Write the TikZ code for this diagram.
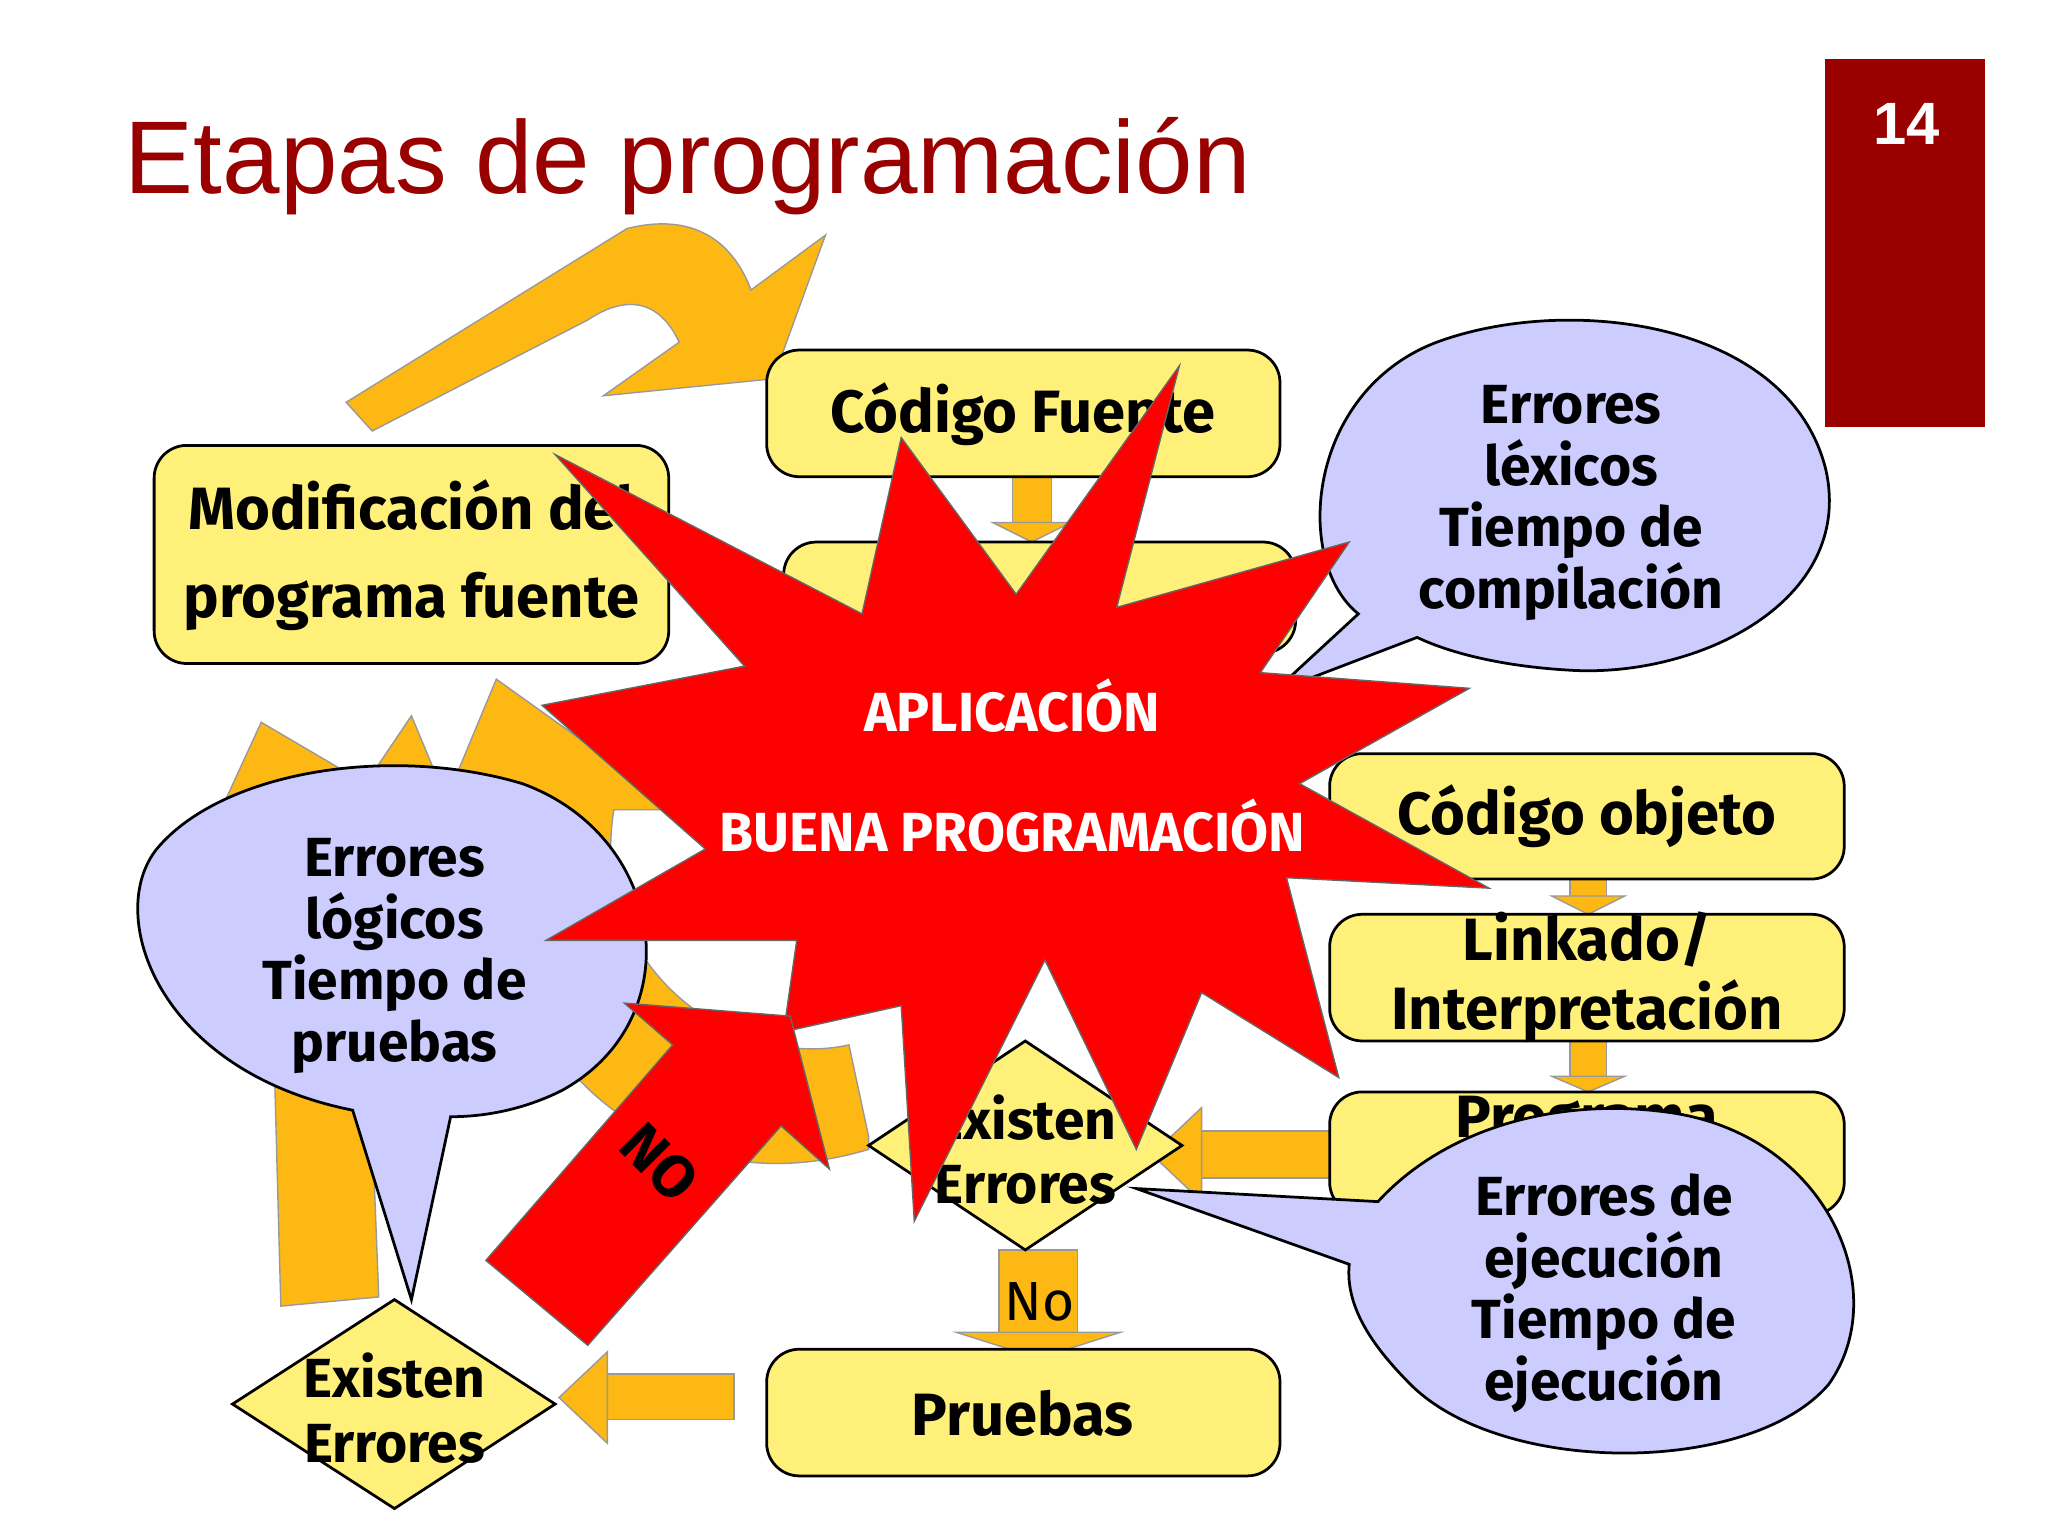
\documentclass[tikz,border=0pt]{standalone}
\usepackage{fontspec}
\setmainfont{Fira Sans}
\newfontfamily\titlefont{Liberation Sans}
\usetikzlibrary{shapes.geometric}
\definecolor{ybox}{HTML}{FFF07A}
\definecolor{orng}{HTML}{FDB813}
\definecolor{lav}{HTML}{CCCCFF}
\definecolor{dred}{HTML}{990000}
\tikzset{
 x=0.01cm,y=-0.01cm,
 ybox/.style={draw=black,fill=ybox,rounded corners=0.25cm,line width=0.6pt},
 txt/.style={font=\fontsize{13}{16}\selectfont\bfseries,align=center},
 dia/.style={draw=black,fill=ybox,line width=0.6pt},
 bub/.style={draw=black,fill=lav,line width=0.6pt},
 oarr/.style={fill=orng,draw=black!40,line width=0.3pt},
}
\begin{document}
\begin{tikzpicture}
\fill[white] (0,0) rectangle (1568,1176);
\useasboundingbox (0,0) rectangle (1568,1176);
% title
\node[anchor=base west,text=dred,font=\titlefont\fontsize{22.5}{26}\selectfont,inner sep=0] (title) at (95,148) {Etapas de programación};
\fill[dred] (1397,45) rectangle (1520,327);
\node[text=white,font=\titlefont\bfseries\fontsize{13}{15}\selectfont] (num) at (1460,95) {14};
% orange arrows
\fill[oarr] (265,308) -- (480,175) .. controls (540,160) and (565,195) .. (575,222) -- (632,180) -- (592,290) -- (462,303) -- (520,262) .. controls (505,230) and (480,225) .. (450,245) -- (285,330) -- cycle;
\fill[oarr] (215,1000) -- (290,993) -- (275,610) -- (345,620) -- (315,548) -- (280,600) -- (200,553) -- (160,640) -- (205,630) -- cycle;
\fill[oarr] (665,870) -- (650,800) .. controls (560,820) and (450,740) .. (470,620) -- (520,620) -- (380,520) -- (330,640) -- (380,620) .. controls (360,800) and (500,930) .. (665,880) -- cycle;
\fill[oarr] (775,365) rectangle (805,400); \fill[oarr] (760,400) -- (820,400) -- (790,415) -- cycle;
\fill[oarr] (1202,650) rectangle (1230,688); \fill[oarr] (1188,686) -- (1244,686) -- (1216,700) -- cycle;
\fill[oarr] (1202,797) rectangle (1230,826); \fill[oarr] (1188,824) -- (1244,824) -- (1216,836) -- cycle;
\fill[oarr] (765,957) rectangle (825,1020); \fill[oarr] (732,1020) -- (858,1020) -- (795,1040) -- cycle;
\node[font=\fontsize{12}{14}\selectfont] (no) at (796,997) {No};
\fill[oarr] (562,1052) rectangle (465,1087); \fill[oarr] (465,1035) -- (465,1105) -- (428,1070) -- cycle;
\fill[oarr] (1020,866) rectangle (920,902); \fill[oarr] (920,848) -- (920,920) -- (882,884) -- cycle;
% boxes
\draw[ybox] (587,268) rectangle (980,365);
\node[txt] (cf) at (783,317) {Código Fuente};
\draw[ybox] (600,415) rectangle (992,500);
\draw[ybox] (118,341) rectangle (512,508);
\node[txt,font=\fontsize{13}{19}\selectfont\bfseries] (mod) at (315,425) {Modificación del\\programa fuente};
\draw[ybox] (1018,577) rectangle (1412,673);
\node[txt] (co) at (1215,625) {Código objeto};
\draw[ybox] (1018,700) rectangle (1412,797);
\node[txt,font=\fontsize{13}{15}\selectfont\bfseries] (link) at (1215,748) {Linkado/\\Interpretación};
\draw[ybox] (1018,836) rectangle (1412,930);
\node[txt] (pe) at (1215,860) {Programa};
\draw[ybox] (587,1033) rectangle (980,1130);
\node[txt] (pr) at (783,1082) {Pruebas};
% diamonds
\draw[dia] (785,797) -- (905,877) -- (785,957) -- (665,877) -- cycle;
\node[txt,font=\fontsize{12}{14}\selectfont\bfseries] (d1) at (785,880) {Existen\\Errores};
\draw[dia] (302,995) -- (425,1075) -- (302,1155) -- (178,1075) -- cycle;
\node[txt,font=\fontsize{12}{14}\selectfont\bfseries] (d2) at (302,1078) {Existen\\Errores};
% bubbles
\draw[bub] (1040,470) .. controls (990,430) and (1000,300) .. (1100,262) .. controls (1200,225) and (1370,245) .. (1398,360) .. controls (1420,460) and (1300,520) .. (1200,513) .. controls (1150,510) and (1110,500) .. (1085,488) -- (975,530) -- cycle;
\node[txt,font=\fontsize{12}{13.4}\selectfont\bfseries] (bl) at (1203,385) {Errores\\léxicos\\Tiempo de\\compilación};
\draw[bub] (270,850) .. controls (120,820) and (80,700) .. (120,650) .. controls (170,590) and (300,570) .. (400,600) .. controls (510,640) and (530,780) .. (430,835) .. controls (400,850) and (370,855) .. (345,855) -- (315,995) -- cycle;
\node[txt,font=\fontsize{12}{13.4}\selectfont\bfseries] (bg) at (302,732) {Errores\\lógicos\\Tiempo de\\pruebas};
\draw[bub] (1055,920) .. controls (1110,860) and (1200,840) .. (1280,852) .. controls (1400,870) and (1450,990) .. (1400,1060) .. controls (1340,1130) and (1150,1130) .. (1080,1060) .. controls (1050,1030) and (1030,1000) .. (1033,968) -- (870,910) -- cycle;
\node[txt,font=\fontsize{12}{13.4}\selectfont\bfseries] (be) at (1228,990) {Errores de\\ejecución\\Tiempo de\\ejecución};
% star
\fill[red,draw=black!60,line width=0.3pt] (425,348) -- (660,470) -- (690,335) -- (778,455) -- (903,280) -- (855,465) -- (1033,415) -- (965,515) -- (1125,527) -- (995,600) -- (1140,680) -- (985,672) -- (1025,825) -- (920,760) -- (870,880) -- (800,735) -- (700,935) -- (690,770) -- (600,790) -- (610,720) -- (418,720) -- (540,650) -- (415,540) -- (570,510) -- cycle;
\node[text=white,font=\fontsize{12}{14}\selectfont\bfseries] (s1) at (775,540) {APLICACIÓN};
\node[text=white,font=\fontsize{12}{14}\selectfont\bfseries] (s2) at (775,632) {BUENA PROGRAMACIÓN};
% NO arrow
\fill[red,draw=black!60,line width=0.3pt] (372,965) -- (515,800) -- (478,768) -- (605,778) -- (635,895) -- (598,862) -- (450,1030) -- cycle;
\node[rotate=-45,font=\fontsize{13}{15}\selectfont\bfseries] (notxt) at (505,890) {NO};
\end{tikzpicture}
\end{document}
